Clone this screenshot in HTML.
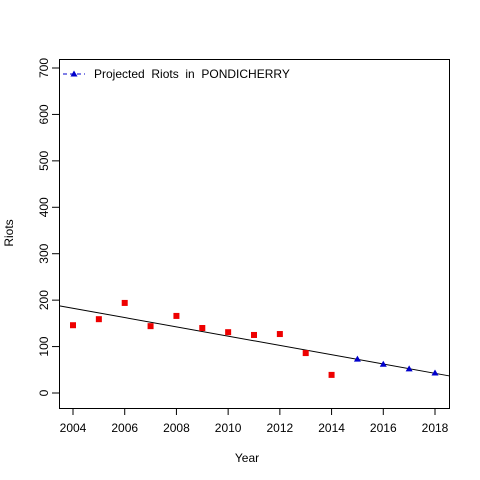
<!DOCTYPE html>
<html><head><meta charset="utf-8"><style>
body{margin:0;background:#fff;}
svg{display:block;font-family:"Liberation Sans",Arial,sans-serif;}
</style></head><body>
<svg id="chart" width="480" height="480" viewBox="0 0 480 480">
<rect width="480" height="480" fill="#fff"/>
<rect x="59.5" y="59.5" width="390" height="349" fill="none" stroke="#000"/>
<g id="axes"></g>
<g id="marks"></g>
<text x="247" y="462" font-size="12" text-anchor="middle">Year</text>
<text x="13" y="233" font-size="12" text-anchor="middle" transform="rotate(-90 13 233)">Riots</text>
<g>
<line x1="63" y1="74" x2="85" y2="74" stroke="#0000cc" stroke-dasharray="4,3"/>
<polygon points="74,70.5 77.5,76.5 70.5,76.5" fill="#0000cc"/>
<text x="94" y="78" font-size="12">Projected&#160; Riots&#160; in&#160; PONDICHERRY</text>
</g>
</svg>
<script>
const actualYears=[2004,2005,2006,2007,2008,2009,2010,2011,2012,2013,2014];
const actualRiots=[146,159,194,144,166,140,131,125,127,86,39];
const projYears=[2015,2016,2017,2018];
const projRiots=[73,62,52,43];
const xTicks=[2004,2006,2008,2010,2012,2014,2016,2018];
const yTicks=[0,100,200,300,400,500,600,700];
const NS="http://www.w3.org/2000/svg";
const X=v=>73+(v-2004)*(362/14);
const Y=v=>393-v*(325/700);
function mk(tag,attrs,parent){const e=document.createElementNS(NS,tag);for(const k in attrs)e.setAttribute(k,attrs[k]);parent.appendChild(e);return e;}
const ax=document.getElementById('axes'),mg=document.getElementById('marks');
mk('line',{x1:X(2004),x2:X(2018),y1:408.5,y2:408.5,stroke:'#000'},ax);
xTicks.forEach(t=>{mk('line',{x1:X(t),x2:X(t),y1:408,y2:415,stroke:'#000'},ax);
const tx=mk('text',{x:X(t),y:432,'font-size':12,'text-anchor':'middle'},ax);tx.textContent=t;

});
mk('line',{x1:59.5,x2:59.5,y1:Y(0),y2:Y(700),stroke:'#000'},ax);
yTicks.forEach(t=>{mk('line',{x1:52,x2:59,y1:Y(t),y2:Y(t),stroke:'#000'},ax);
const tx=mk('text',{x:44,y:Y(t),'font-size':12,'text-anchor':'middle',transform:`rotate(-90 44 ${Y(t)})`,'dominant-baseline':'central'},ax);tx.textContent=t;

});
const n=actualYears.length,mx=actualYears.reduce((a,b)=>a+b)/n,my=actualRiots.reduce((a,b)=>a+b)/n;
let sxy=0,sxx=0;actualYears.forEach((x,i)=>{sxy+=(x-mx)*(actualRiots[i]-my);sxx+=(x-mx)**2;});
const sl=sxy/sxx,ic=my-sl*mx;
const x0=2004+(59.5-73)/(362/14),x1=2004+(449.5-73)/(362/14);
const ln=mk('line',{x1:59.5,x2:449.5,y1:Y(ic+sl*x0),y2:Y(ic+sl*x1),stroke:'#000'},mg);


actualYears.forEach((yr,i)=>{const r=mk('rect',{x:X(yr)-3,y:Y(actualRiots[i])-3,width:6,height:6,fill:'#ee0000'},mg);

});
projYears.forEach((yr,i)=>{const cx=X(yr),cy=Y(projRiots[i]);
const p=mk('polygon',{points:`${cx},${cy-3.5} ${cx+3.5},${cy+2.5} ${cx-3.5},${cy+2.5}`,fill:'#0000cc'},mg);

});
</script>
</body></html>
